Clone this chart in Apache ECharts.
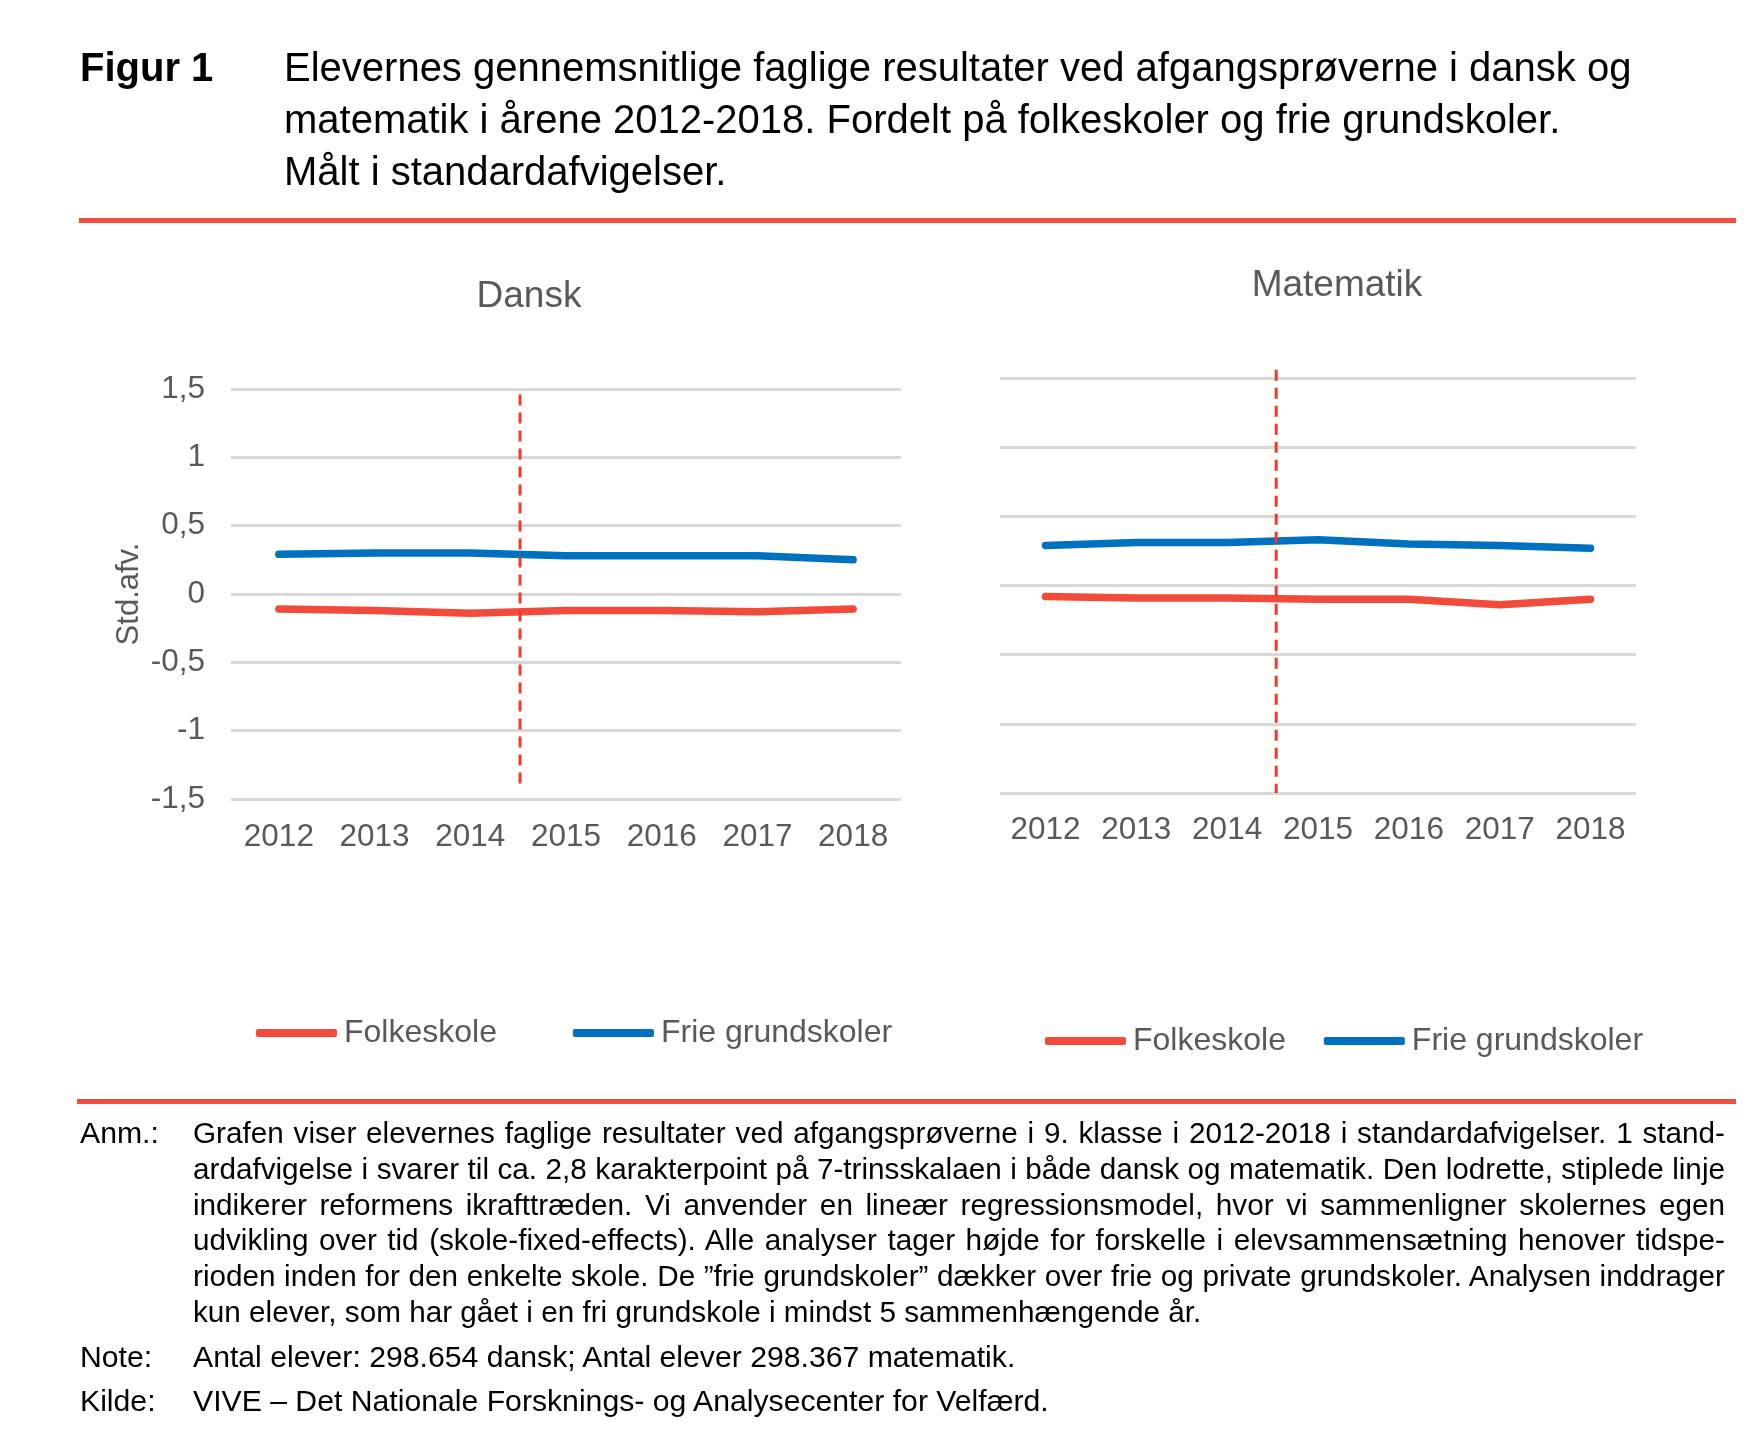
<!DOCTYPE html>
<html><head><meta charset="utf-8">
<script src="https://cdn.jsdelivr.net/npm/echarts@6/dist/echarts.min.js"></script>
<style>
html,body{margin:0;padding:0;background:#fff;}
body{width:1762px;height:1440px;position:relative;overflow:hidden;font-family:"Liberation Sans",Arial,sans-serif;color:#000;}
#chart{position:absolute;left:0;top:0;width:1762px;height:1440px;}
.hdr{position:absolute;top:41px;font-size:40px;line-height:52px;}
.rule{position:absolute;height:5px;background:#F04E3E;}
.notes{position:absolute;left:80px;top:1115px;width:1660px;font-size:30.2px;line-height:35.8px;}
.row{display:flex;}
.lab{width:113px;flex:none;}
.body{width:1532px;}
.anm{font-size:29.7px;}
.jl{text-align:justify;text-align-last:justify;white-space:nowrap;}
</style></head>
<body>
<div id="chart"></div>
<div class="hdr" style="left:80px;font-weight:bold;">Figur 1</div>
<div class="hdr" style="left:284px;">Elevernes gennemsnitlige faglige resultater ved afgangsprøverne i dansk og<br>matematik i årene 2012-2018. Fordelt på folkeskoler og frie grundskoler.<br>Målt i standardafvigelser.</div>
<div class="rule" style="left:79px;width:1657px;top:218px;"></div>
<div class="rule" style="left:77px;width:1659px;top:1099px;"></div>
<div class="notes">
 <div class="row"><div class="lab">Anm.:</div><div class="body anm">
  <div class="jl">Grafen viser elevernes faglige resultater ved afgangsprøverne i 9. klasse i 2012-2018 i standardafvigelser. 1 stand-</div>
  <div class="jl">ardafvigelse i svarer til ca. 2,8 karakterpoint på 7-trinsskalaen i både dansk og matematik. Den lodrette, stiplede linje</div>
  <div class="jl">indikerer reformens ikrafttræden. Vi anvender en lineær regressionsmodel, hvor vi sammenligner skolernes egen</div>
  <div class="jl">udvikling over tid (skole-fixed-effects). Alle analyser tager højde for forskelle i elevsammensætning henover tidspe-</div>
  <div class="jl">rioden inden for den enkelte skole. De ”frie grundskoler” dækker over frie og private grundskoler. Analysen inddrager</div>
  <div>kun elever, som har gået i en fri grundskole i mindst 5 sammenhængende år.</div>
 </div></div>
 <div class="row" style="margin-top:9px;"><div class="lab">Note:</div><div class="body">Antal elever: 298.654 dansk; Antal elever 298.367 matematik.</div></div>
 <div class="row" style="margin-top:8px;"><div class="lab">Kilde:</div><div class="body">VIVE – Det Nationale Forsknings- og Analysecenter for Velfærd.</div></div>
</div>
<script>
const years = ['2012','2013','2014','2015','2016','2017','2018'];
const danskFolkeskole = [-0.11, -0.12, -0.14, -0.12, -0.12, -0.13, -0.11];
const danskFrie = [0.29, 0.30, 0.30, 0.28, 0.28, 0.28, 0.25];
const matFolkeskole = [-0.08, -0.09, -0.09, -0.10, -0.10, -0.14, -0.10];
const matFrie = [0.29, 0.31, 0.31, 0.33, 0.30, 0.29, 0.27];
const reformDanskX = [2.52, 2.52];
const reformDanskY = [1.46, -1.43];
const reformMatX = [2.54, 2.54];
const reformMatY = [1.56, -1.5];
const yTicks = {min: -1.5, max: 1.5, interval: 0.5};

const RED = '#F24A3B', BLUE = '#0070C0', DASH = '#EE3B2D', GRID = '#D9D9D9', TXT = '#595959';
const FONT = '"Liberation Sans", Arial, sans-serif';

const chart = echarts.init(document.getElementById('chart'), null, {renderer: 'canvas'});

function catAxis(gi, labelTop) {
  return {type: 'category', gridIndex: gi, data: years, boundaryGap: true,
    axisLine: {show: false}, axisTick: {show: false},
    axisLabel: {color: TXT, fontSize: 31.5, fontFamily: FONT, margin: labelTop, interval: 0, hideOverlap: false}};
}
function hiddenX(gi) {
  return {type: 'value', gridIndex: gi, min: -0.5, max: 6.5, show: false};
}
function yAx(gi, showLabels, name) {
  return {type: 'value', gridIndex: gi, min: yTicks.min, max: yTicks.max, interval: yTicks.interval,
    axisLine: {show: false}, axisTick: {show: false},
    splitLine: {lineStyle: {color: GRID, width: 3}},
    axisLabel: {show: showLabels, color: TXT, fontSize: 31.5, fontFamily: FONT, margin: 26,
      formatter: v => String(v).replace('.', ',')},
    name: name || '', nameLocation: 'middle', nameGap: 86, nameRotate: 90,
    nameTextStyle: {color: TXT, fontSize: 31, fontFamily: FONT}};
}
function lineSeries(name, data, color, xi, yi) {
  return {type: 'line', name, data, xAxisIndex: xi, yAxisIndex: yi, symbol: 'none',
    lineStyle: {color, width: 7.5, cap: 'round', join: 'round'}, itemStyle: {color}, z: 3};
}
function dashSeries(xs, ys, xi, yi) {
  return {type: 'line', data: xs.map((x, i) => [x, ys[i]]), xAxisIndex: xi, yAxisIndex: yi,
    symbol: 'none', clip: false, silent: true, z: 4,
    lineStyle: {color: DASH, width: 3, type: [11, 7]}};
}

chart.setOption({
  animation: false,
  title: [
    {text: 'Dansk', left: 529, top: 278, textAlign: 'center', padding: 0,
      textStyle: {color: TXT, fontSize: 37, fontWeight: 'normal', fontFamily: FONT}},
    {text: 'Matematik', left: 1337, top: 267, textAlign: 'center', padding: 0,
      textStyle: {color: TXT, fontSize: 37, fontWeight: 'normal', fontFamily: FONT}}
  ],
  legend: [
    {left: 256, top: 1017, padding: 0, itemGap: 76, itemWidth: 81, itemHeight: 8, icon: 'roundRect',
      data: ['Folkeskole', 'Frie grundskoler'], selectedMode: false,
      textStyle: {color: TXT, fontSize: 32, fontFamily: FONT, padding: [0, 0, 0, 2]}},
    {left: 1045, top: 1025, padding: 0, itemGap: 29, itemWidth: 81, itemHeight: 8, icon: 'roundRect',
      data: ['Folkeskole ', 'Frie grundskoler '], selectedMode: false,
      textStyle: {color: TXT, fontSize: 32, fontFamily: FONT, padding: [0, 0, 0, 2]}}
  ],
  grid: [
    {left: 231, width: 670, top: 389, height: 410},
    {left: 1000, width: 636, top: 378, height: 415}
  ],
  xAxis: [catAxis(0, 22), catAxis(1, 21), hiddenX(0), hiddenX(1)],
  yAxis: [yAx(0, true, 'Std.afv.'), yAx(1, false)],
  series: [
    lineSeries('Folkeskole', danskFolkeskole, RED, 0, 0),
    lineSeries('Frie grundskoler', danskFrie, BLUE, 0, 0),
    lineSeries('Folkeskole ', matFolkeskole, RED, 1, 1),
    lineSeries('Frie grundskoler ', matFrie, BLUE, 1, 1),
    dashSeries(reformDanskX, reformDanskY, 2, 0),
    dashSeries(reformMatX, reformMatY, 3, 1)
  ]
});
</script>
</body></html>
